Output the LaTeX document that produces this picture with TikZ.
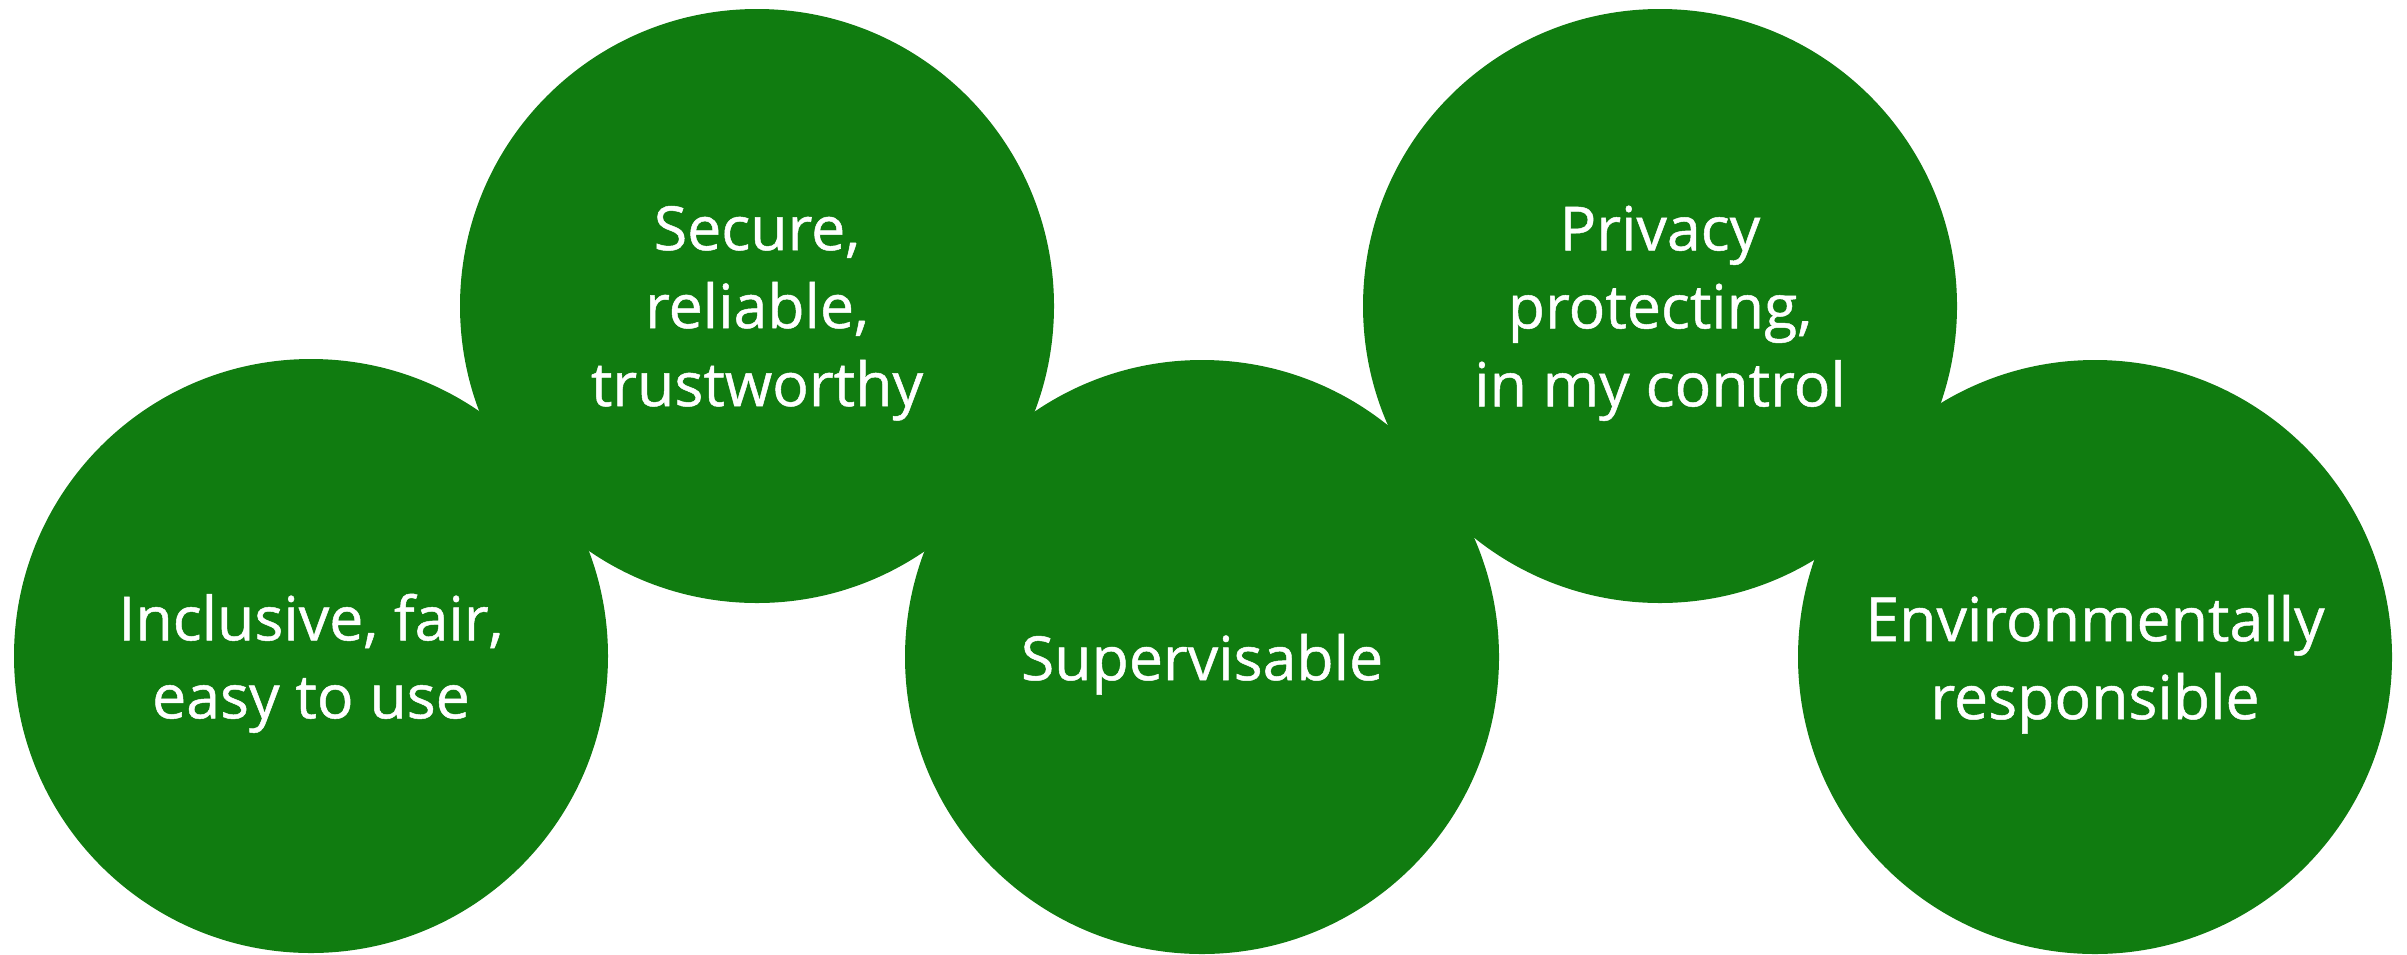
\documentclass[tikz,border=0pt]{standalone}
\usepackage{fontspec}
\setmainfont{Open Sans}
\newfontfamily\labelfont[FakeBold=0.8]{Open Sans}
\usepackage{tikz}
\usepackage{xcolor}
\definecolor{msgreen}{RGB}{16,124,16}

\begin{document}
\begin{tikzpicture}[x=0.25pt,y=0.25pt,yscale=-1,xscale=1,
  valuecircle/.style={circle,fill=msgreen,draw=none,inner sep=0pt,minimum size=148.5pt,
    text=white,align=center,text depth=0pt,font=\labelfont\fontsize{15.2}{19.5}\selectfont}]
%set diagram left start at 0, and has height of 954
\useasboundingbox (0,0) rectangle (2407,954);

%Shape: Circle
\node [valuecircle] (inclusive) at (311,656) {Inclusive, fair,\\easy to use};
%Shape: Circle
\node [valuecircle] (secure) at (757,306) {Secure,\\reliable,\\trustworthy};
%Shape: Circle
\node [valuecircle] (supervisable) at (1202,657) {Supervisable};
%Shape: Circle
\node [valuecircle] (privacy) at (1660,306) {Privacy\\protecting,\\in my control};
%Shape: Circle
\node [valuecircle] (environment) at (2095,657) {Environmentally\\responsible};

\end{tikzpicture}
\end{document}
